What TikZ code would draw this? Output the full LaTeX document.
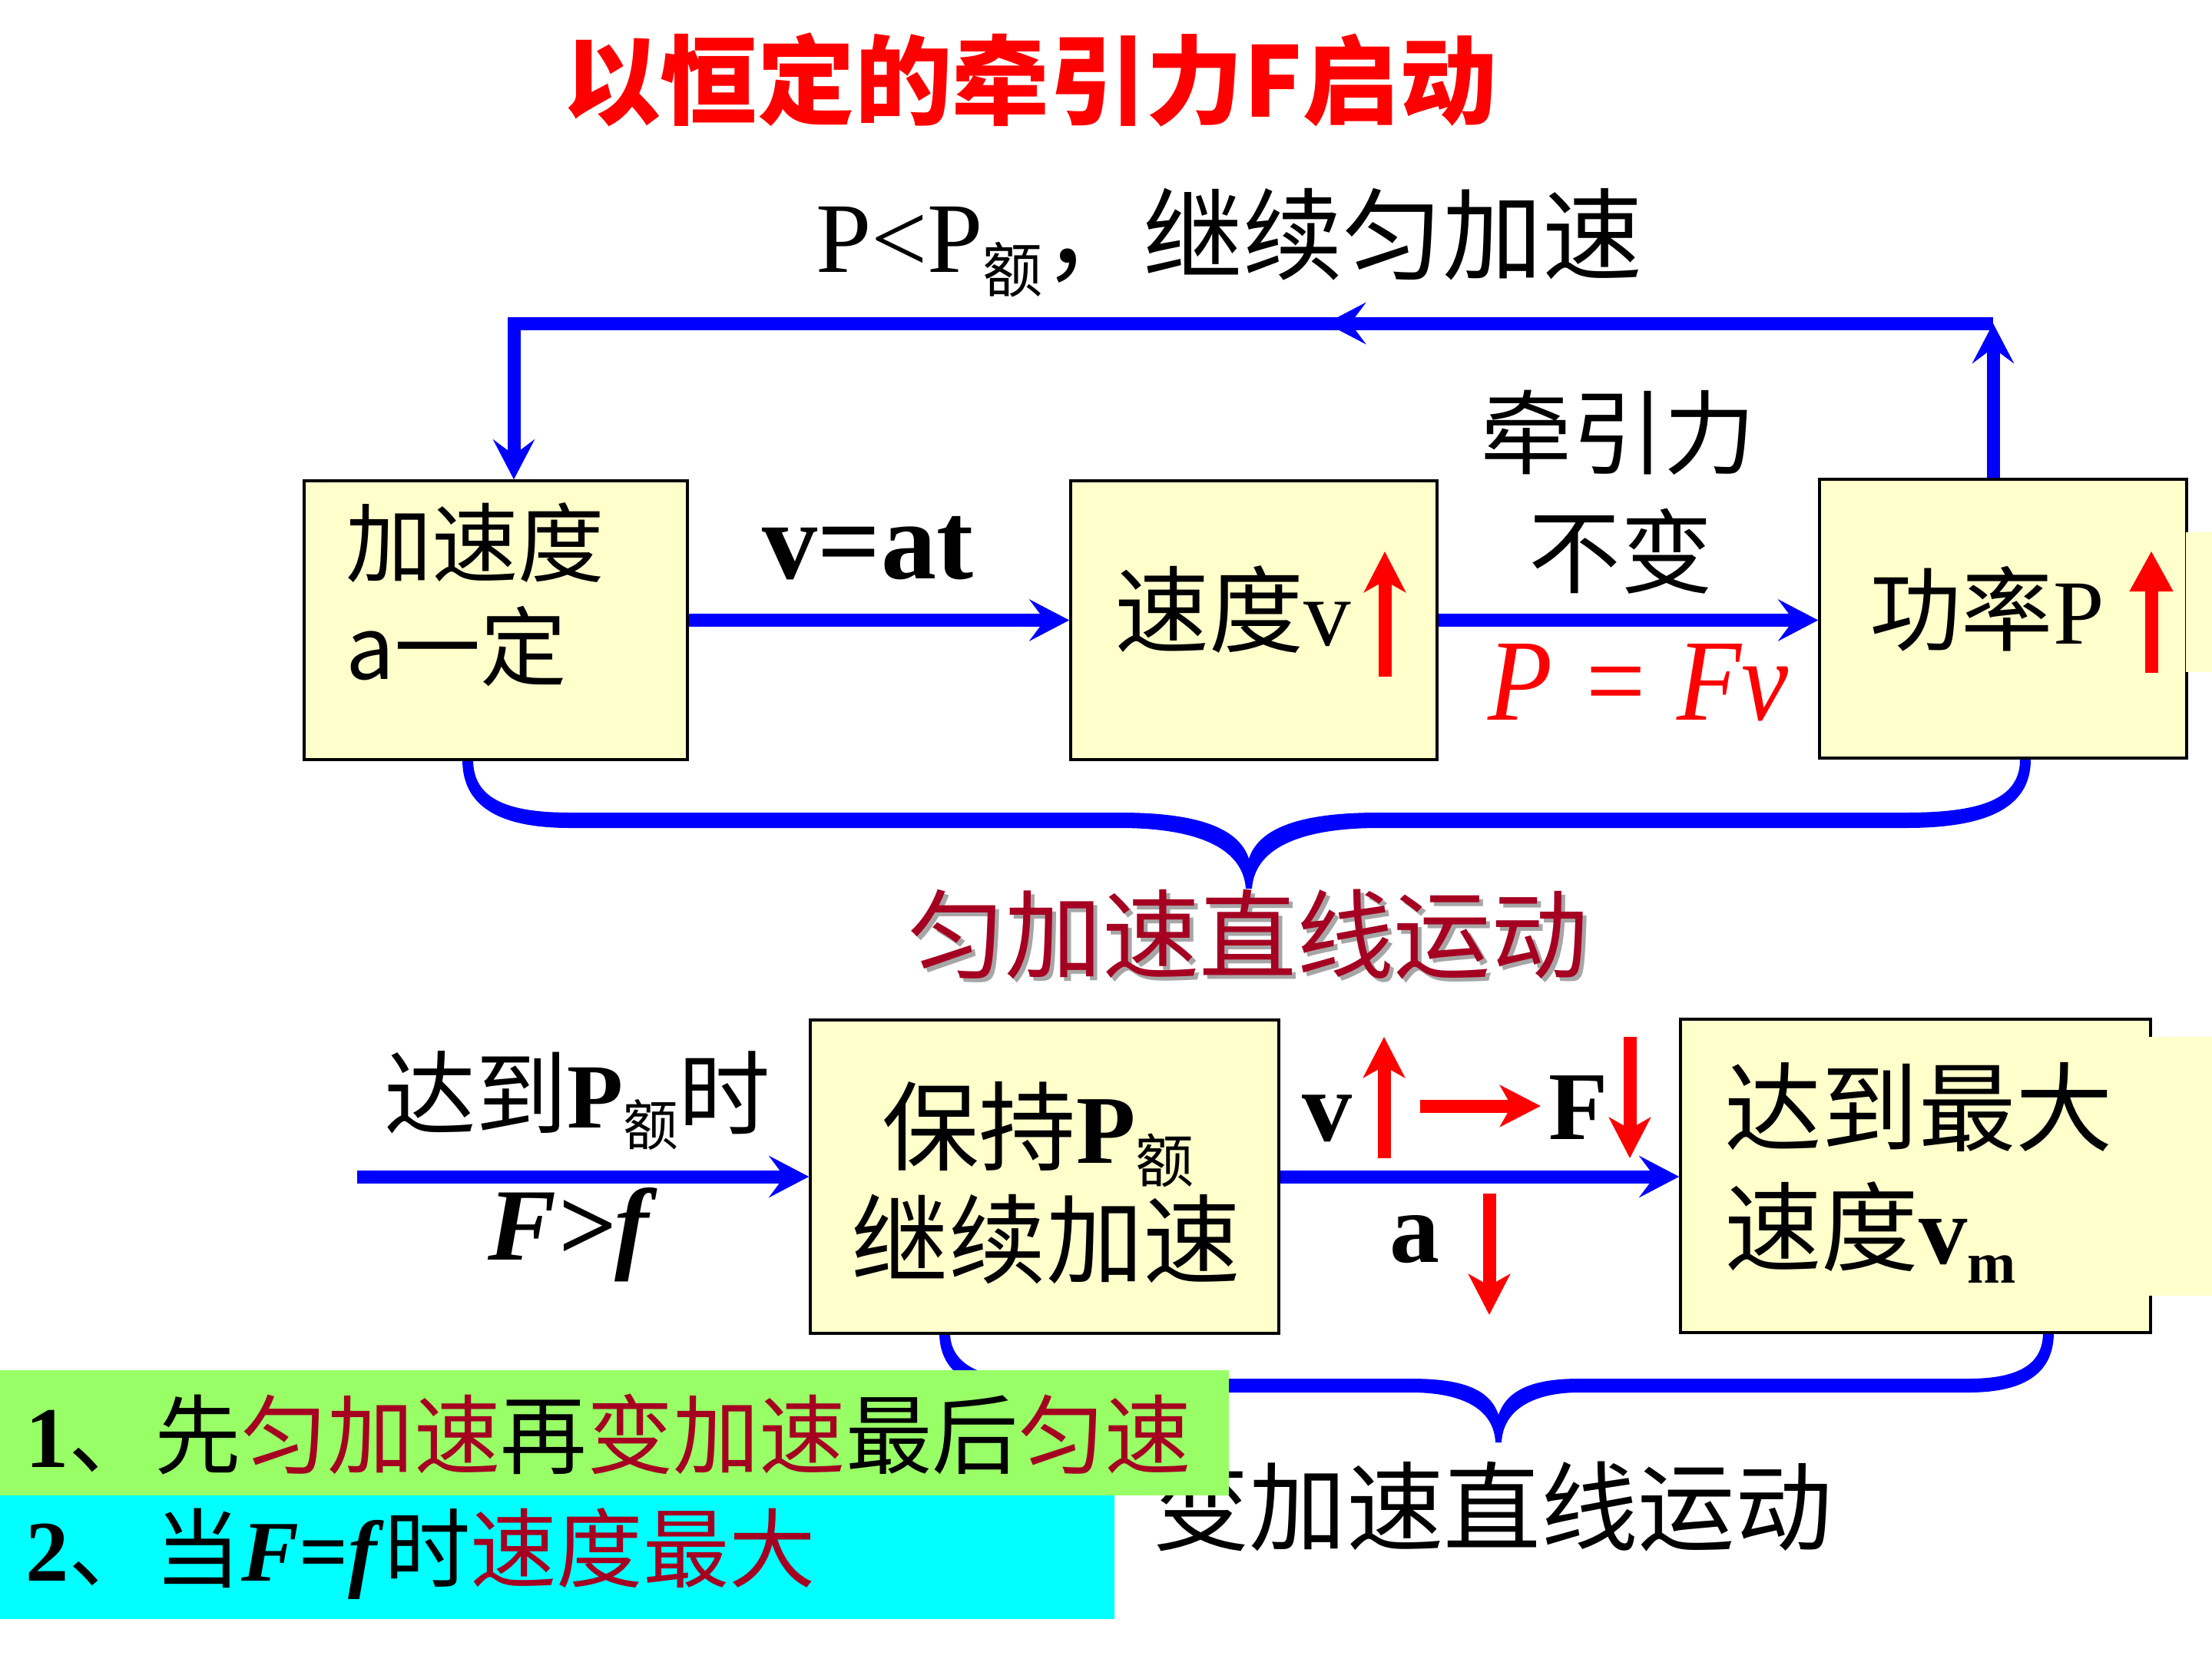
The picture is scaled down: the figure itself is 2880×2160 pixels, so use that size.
\documentclass[tikz,border=0pt]{standalone}
\usepackage{fontspec}
\setmainfont{Liberation Serif}
\newfontfamily\cjk{Noto Sans CJK SC}
\usepackage{graphicx}
\usetikzlibrary{arrows.meta,decorations.markings}
\definecolor{dred}{RGB}{165,0,33}
\definecolor{boxyel}{RGB}{255,255,204}
\definecolor{lgreen}{RGB}{153,255,102}
\definecolor{bcyan}{RGB}{0,255,255}
\definecolor{bblue}{RGB}{0,0,255}
\newcommand\fsz[1]{\fontsize{#1}{#1}\selectfont}
\newcommand\esub[1]{\raisebox{-0.2em}{\scalebox{0.6}{#1}}}
\tikzset{
  box/.style={draw=black, line width=0.35mm, fill=boxyel, inner sep=0pt},
  flow/.style={draw=bblue, line width=1.7mm, -{Stealth[length=5.2mm,width=5.4mm,inset=2mm]}},
  redarr/.style={draw=red, line width=1.7mm, -{Stealth[length=5.3mm,width=5.4mm,inset=1.5mm]}},
  redtri/.style={draw=red, line width=1.7mm, -{Triangle[length=5.3mm,width=5.3mm]}},
  txt/.style={inner sep=0pt, outer sep=0pt},
}
\begin{document}
\begin{tikzpicture}[x=0.1mm, y=-0.1mm]
\fill[white] (0,0) rectangle (2880,2160);
\useasboundingbox (0,0) rectangle (2880,2160);

% braces
\fill[bblue] (602,989) .. controls (602,1050) and (650,1078) .. (742,1078)
 -- (1458,1078) .. controls (1550,1078) and (1618,1100) .. (1622,1157)
 -- (1630,1157) .. controls (1634,1100) and (1702,1078) .. (1795,1078)
 -- (2482,1078) .. controls (2590,1078) and (2644,1050) .. (2644,989)
 -- (2630,989) .. controls (2630,1040) and (2580,1058) .. (2482,1058)
 -- (1795,1058) .. controls (1700,1058) and (1640,1075) .. (1626,1118)
 .. controls (1612,1075) and (1552,1058) .. (1458,1058)
 -- (742,1058) .. controls (660,1058) and (616,1040) .. (616,989) -- cycle;
\fill[bblue] (1223,1735) .. controls (1223,1785) and (1260,1813) .. (1340,1813)
 -- (1837,1813) .. controls (1905,1813) and (1945,1835) .. (1947,1878)
 -- (1955,1878) .. controls (1957,1835) and (1997,1813) .. (2056,1813)
 -- (2563,1813) .. controls (2640,1813) and (2674,1785) .. (2674,1735)
 -- (2660,1735) .. controls (2660,1775) and (2630,1795) .. (2563,1795)
 -- (2056,1795) .. controls (1995,1795) and (1962,1810) .. (1951,1842)
 .. controls (1940,1810) and (1907,1795) .. (1837,1795)
 -- (1340,1795) .. controls (1275,1795) and (1237,1775) .. (1237,1735) -- cycle;

% boxes
\node[box, minimum width=49.9mm, minimum height=36.3mm] (b1) at (645.5,807.5) {};
\node[box, minimum width=47.7mm, minimum height=36.3mm] (b2) at (1632.5,807.5) {};
\node[box, minimum width=47.8mm, minimum height=36.3mm] (b3) at (2608,805.5) {};
\node[box, minimum width=61mm, minimum height=40.8mm] (b4) at (1360,1532) {};
\node[box, minimum width=61.2mm, minimum height=40.8mm] (b5) at (2494,1531) {};
\fill[boxyel] (2846,693) rectangle (2880,875);
\fill[boxyel] (2798,1350) rectangle (2880,1687);

% loop
\coordinate (cTL) at (669,421);
\coordinate (cTR) at (2595,421);
\draw[flow] (b3.north -| cTR) -- (cTR);
\draw[flow, postaction=decorate, decoration={markings, mark=at position 0.408 with {\arrow{Stealth[length=5.2mm,width=5.4mm,inset=2mm]}}}] (cTR) -- (cTL) -- (b1.north -| cTL);

% flow arrows
\draw[flow] (b1.east) -- (b1.east -| b2.west);
\draw[flow] (b2.east) -- (b2.east -| b3.west);
\coordinate (inL) at (465,1532);
\draw[flow] (inL) -- (b4.west);
\draw[flow] (b4.east) -- (b4.east -| b5.west);

% red arrows
\coordinate (r2s) at (1803,881); \coordinate (r2e) at (1803,718);
\coordinate (r3s) at (2801,876); \coordinate (r3e) at (2801,717);
\coordinate (rvs) at (1802,1508); \coordinate (rve) at (1802,1350);
\coordinate (rfs) at (1849,1440); \coordinate (rfe) at (2006,1440);
\coordinate (rFs) at (2122,1350); \coordinate (rFe) at (2122,1508);
\coordinate (ras) at (1939,1554); \coordinate (rae) at (1939,1712);
\draw[redarr] (r2s) -- (r2e);
\draw[redtri] (r3s) -- (r3e);
\draw[redarr] (rvs) -- (rve);
\draw[redarr] (rfs) -- (rfe);
\draw[redarr] (rFs) -- (rFe);
\draw[redarr] (ras) -- (rae);

% texts
\node[txt, text=red, font=\fsz{36}\cjk\bfseries] (title) at (1341,104) {以恒定的牵引力F启动};
\node[txt, anchor=base west, font=\fsz{37}] (lbltop) at (1062,354) {P<P\esub{\cjk 额}{\cjk ，继续匀加速}};
\node[txt, anchor=base, font=\fsz{41}\bfseries] (vat) at (1130,753) {v=at};
\node[txt, anchor=base west, font=\fsz{32}\cjk] (t1a) at (450,749) {加速度};
\node[txt, anchor=base west, font=\fsz{32}\cjk] (t1b) at (450,884) {a一定};
\node[txt, anchor=base west, font=\fsz{35}] (t2) at (1451,840) {{\cjk 速度}v};
\node[txt, anchor=base west, font=\fsz{34}] (t3) at (2434,838) {{\cjk 功率}P};
\node[txt, font=\fsz{34}\cjk] (qyl) at (2107,563) {牵引力};
\node[txt, font=\fsz{34}\cjk] (bbian) at (2110,718) {不变};
\node[txt, anchor=base, text=red, font=\fsz{43}\itshape] (pfv) at (2133,937) {\scalebox{0.91}[1]{P = Fv}};

\node[txt, text=black!35, font=\fsz{36}\cjk] (yjsshadow) at (1630,1222) {匀加速直线运动};
\node[txt, text=dred, font=\fsz{36}\cjk] (yjs) at (1625,1217) {匀加速直线运动};

\node[txt, anchor=base west, font=\fsz{34}] (ddp) at (500,1468) {{\cjk 达到}\textbf{P}\esub{\cjk 额}{\cjk 时}};
\node[txt, anchor=base, font=\fsz{38}\bfseries\itshape] (fgf) at (740,1640) {F>f};
\node[txt, anchor=base west, font=\fsz{36}] (t4a) at (1148,1514) {{\cjk 保持}\textbf{P}\esub{\cjk 额}};
\node[txt, font=\fsz{36}\cjk] (t4b) at (1362,1613) {继续加速};
\node[txt, anchor=west, font=\fsz{36}\cjk] (t5a) at (2245,1441) {达到最大};
\node[txt, anchor=base west, font=\fsz{36}] (t5b) at (2245,1645) {{\cjk 速度}\textbf{v}\esub{\textbf{m}}};
\node[txt, anchor=base, font=\fsz{37}\bfseries] (lv) at (1728,1485) {v};
\node[txt, anchor=base, font=\fsz{36}\bfseries] (lF) at (2055,1483) {F};
\node[txt, anchor=base, font=\fsz{37}\bfseries] (la) at (1842,1643) {a};

\node[txt, font=\fsz{36}\cjk] (bjs) at (1943,1961) {变加速直线运动};

% notes
\fill[lgreen] (0,1784) rectangle (1600,1947);
\fill[bcyan] (0,1947) rectangle (1451,2108);
\node[txt, anchor=base west, font=\fsz{32}] (n1) at (33,1910) {\textbf{1}{\cjk 、先\textcolor{dred}{匀加速}再\textcolor{dred}{变加速}最后\textcolor{dred}{匀速}}};
\node[txt, anchor=base west, font=\fsz{32}] (n2) at (33,2058) {\textbf{2}{\cjk 、当}\textbf{\textit{F}=\textit{f}}{\cjk 时\textcolor{dred}{速度最大}}};
\end{tikzpicture}
\end{document}
